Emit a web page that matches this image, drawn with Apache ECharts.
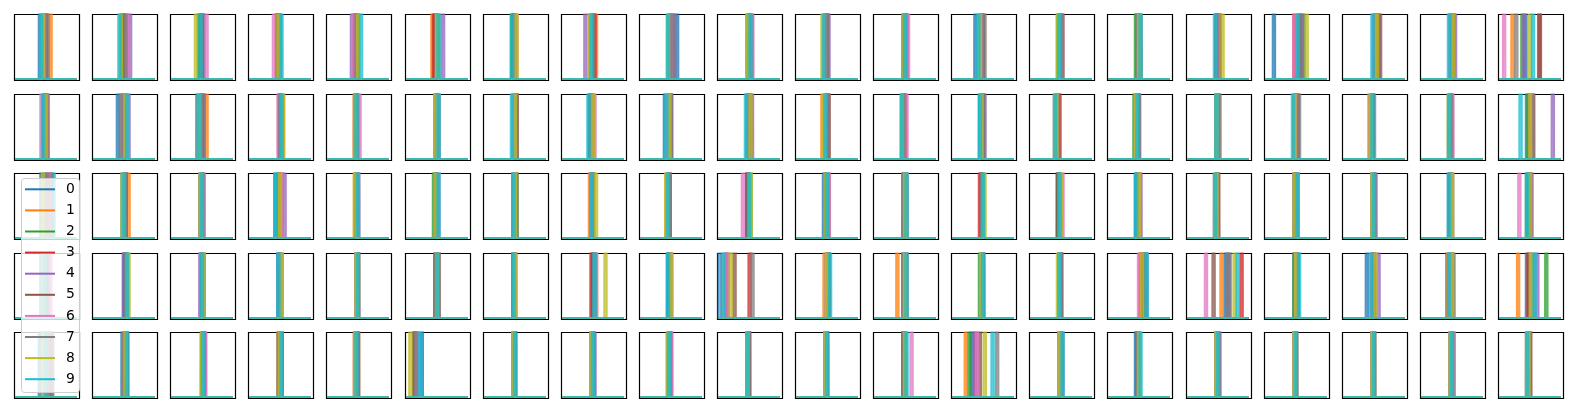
<!DOCTYPE html>
<html>
<head>
<meta charset="utf-8">
<script src="https://cdn.jsdelivr.net/npm/echarts@6/dist/echarts.min.js"></script>
<style>
html,body{margin:0;padding:0;background:#fff;}
#chart{width:1576px;height:412px;}
</style>
</head>
<body>
<div id="chart"></div>
<script>
// ---- data ----
const classNames = ['0','1','2','3','4','5','6','7','8','9'];
const palette = ['#1f77b4','#ff7f0e','#2ca02c','#d62728','#9467bd','#8c564b','#e377c2','#7f7f7f','#bcbd22','#17becf'];
const xStart = 0, xEnd = 40;      // sample range of every panel
const peakValue = 30;             // spike height (far above the visible range)
const peakHalfWidth = 0.75;       // spike half width in samples

// peak position of each class (0..9) in each panel, row by row
const peaksRow1 = [
  [16,23,19,20,19,20,19,21,18,17],[19,18,19,21,24,20,22,21,18,17],[19,18,18,20,21,20,23,20,16,19],[20,19,19,18,19,18,16,19,19,21],
  [18,19,20,19,16,18,17,19,20,22],[20,17,19,18,24,19,20,21,20,21],[19,20,18,20,19,19,21,20,21,18],[20,22,19,21,15,19,18,20,18,19],
  [24,19,20,21,22,19,20,21,18,18],[20,21,19,22,20,21,22,20,19,21],[19,18,20,19,21,20,19,20,17,18],[20,19,21,20,21,19,22,20,19,20],
  [15,19,18,19,20,20,19,21,18,17],[19,20,18,20,19,21,20,20,18,19],[19,20,18,20,19,21,20,19,20,21],[19,20,21,19,20,21,20,19,23,18],
  [5.5,23,25,19,24,22,19,22,27,21],[20,21,21,22,23,24,20,21,22,19],[19,20,21,20,22,21,19,20,21,18],[17,8.5,15,26.5,16,26,3,11,20,22]
];
const peaksRow2 = [
  [20,21,20,19,21,20,17,19,20,18],[16,20,19,21,23,20,19,18,21,22],[17,23,19,20,21,20,19,21,18,18],[20,22,21,20,21,20,19,20,22,21],
  [19,18,19,18,20,19,21,19,18,19],[20,19,21,20,19,20,21,20,19,21],[19,20,20,21,20,21,19,21,20,18],[18,19,20,19,20,18,21,19,20,17],
  [16,18,19,20,20,19,18,20,19,17],[19,20,19,21,22,20,19,20,21,18],[20,17,19,21,20,20,19,21,18,19],[18,19,19,20,19,20,21,19,18,18],
  [18,19,20,19,21,20,19,20,19,18],[17,16,18,19,17,18,17,18,17,16],[18,19,17,19,20,19,18,20,18,19],[19,20,19,20,19,20,20,21,19,19],
  [19,20,21,20,19,21,20,22,19,18],[19,17,18,19,20,19,18,19,18,19],[19,18,19,20,20,19,20,19,18,18],[18,21,19,22,35,20,21,22,20,13.8]
];
const peaksRow3 = [
  [17,21,19,23,20,24,22,21,18,25],[19,23,20,21,20,21,20,21,19,20],[19,20,21,20,19,20,21,20,19,20],[17,20,19,21,23,20,21,19,20,17],
  [19,18,19,20,20,19,20,19,18,20],[19,20,18,20,19,20,21,20,19,21],[19,20,21,20,19,20,20,21,20,19],[19,18,19,20,19,20,19,20,22,19],
  [18,17,18,19,18,19,18,19,17,18],[19,20,21,19,20,19,16,20,21,20],[18,19,20,21,20,19,21,20,19,20],[19,20,21,20,19,20,21,19,20,21],
  [19,20,19,18,20,19,20,19,21,20],[18,19,18,20,19,18,21,19,20,19],[18,19,20,19,21,20,20,19,20,18],[19,18,19,20,19,20,19,20,19,18],
  [19,20,21,20,19,20,21,20,19,21],[19,20,19,20,21,20,19,20,19,20],[18,19,20,19,20,19,20,19,20,18],[19,20,18,20,21,20,13,19,20,18]
];
const peaksRow4 = [
  [17,20,19,21,22,20,23,21,18,19],[20,21,22,21,20,21,22,21,23,22],[19,20,21,20,21,20,19,20,21,20],[19,20,21,20,19,20,21,20,21,19],
  [19,20,19,20,19,20,19,20,19,20],[19,20,20,21,20,19,20,21,20,20],[19,20,19,20,19,20,20,19,20,19],[21,22,20,19,21,20,22,21,28.2,21],
  [18,19,20,19,20,19,20,19,20,18],[1,4,6,20.4,5,10.5,5.5,22.3,8,3.2],[21,18.4,20,21,20,21,20,21,20,22],[20,15,19,20,19,21,20,19,20,21],
  [19,20,18,20,19,20,19,20,19,20],[19,20,19,20,19,20,19,20,18,19],[23,22,24,21,25,23,20,24,22,25],[25,22.3,27.6,35.5,27,17.1,12.1,26,30.9,32.9],
  [19,20,19,20,21,20,20,21,20,22],[15.3,19,20,19,23,20,19,20,21,18],[17,17.5,19,20,19,20,19,21,20,18],[18,12.2,30.7,19,24.8,20,21,22,20.5,23]
];
const peaksRow5 = [
  [16,21,20,22,19,24,21,23,18,20],[19,20,21,22,21,22,21,20,21,22],[20,21,20,21,22,21,22,21,20,21],[20,19,20,21,20,21,20,19,20,21],
  [19,20,19,18,19,20,19,20,18,19],[10,5,6,7,6,5,7,6,2.5,9],[19,20,19,20,19,20,19,20,19,20],[19,20,19,20,21,20,19,20,19,20],
  [18,19,20,19,20,19,20,19,18,19],[19,20,19,20,19,20,19,20,19,19],[19,20,19,20,19,20,19,20,19,20],[20,19,20,19,20,19,24.3,19,20,21],
  [12.5,8.7,11.3,15,14.6,18,16,29.3,21.2,26.3],[19,20,19,20,21,20,19,20,19,21],[18,19,20,19,20,19,20,19,20,21],[19,20,19,20,21,20,19,20,19,20],
  [19,20,19,20,19,20,19,20,19,20],[19,20,19,20,19,20,19,20,19,20],[19,20,21,20,19,20,21,20,19,20],[19,18,19,20,19,20,19,20,19,18]
];
const allRows = [peaksRow1, peaksRow2, peaksRow3, peaksRow4, peaksRow5];

// ---- layout ----
const nRows = 5, nCols = 20;
const panelW = 65, panelH = 66, left0 = 14, top0 = 14, stepX = 78.1, stepY = 79.5;

const grids = [], xAxes = [], yAxes = [], series = [];
for (let r = 0; r < nRows; r++) {
  for (let c = 0; c < nCols; c++) {
    const k = r * nCols + c;
    grids.push({
      left: Math.round(left0 + c * stepX) + 0.5, top: Math.round(top0 + r * stepY) + 0.5,
      width: panelW, height: panelH,
      show: true, borderColor: '#000', borderWidth: 1.2, backgroundColor: 'transparent'
    });
    xAxes.push({gridIndex: k, type: 'value', min: xStart - 0.7, max: xEnd + 2, show: false});
    yAxes.push({gridIndex: k, type: 'value', min: -0.023, max: 1, show: false});
    const peaks = allRows[r][c];
    for (let s = 0; s < classNames.length; s++) {
      const p = peaks[s];
      series.push({
        type: 'line', name: classNames[s], xAxisIndex: k, yAxisIndex: k,
        data: [[xStart, 0], [p - peakHalfWidth, 0], [p, peakValue], [p + peakHalfWidth, 0], [xEnd, 0]],
        showSymbol: false, symbol: 'none', silent: true, animation: false, clip: true, z: 2,
        itemStyle: {color: palette[s]},
        lineStyle: {color: palette[s], width: 2.2, opacity: 0.78}
      });
    }
  }
}

// ---- legend (drawn as graphic on its own layer, above the panels) ----
const legendX = 21, legendY = 178, legendW = 58, legendH = 214, legendRowGap = 21.1;
const legendZ = 100, legendLayer = 1;
const legendChildren = [{
  type: 'rect', zlevel: legendLayer, z: legendZ, z2: 0,
  shape: {x: 0.5, y: 0.5, width: legendW, height: legendH, r: 3},
  style: {fill: 'rgba(255,255,255,0.8)', stroke: '#cccccc', lineWidth: 1}
}];
classNames.forEach((n, i) => {
  const y = 11.3 + legendRowGap * i;
  legendChildren.push({
    type: 'line', zlevel: legendLayer, z: legendZ, z2: 1, shape: {x1: 4, y1: y, x2: 34, y2: y},
    style: {stroke: palette[i], lineWidth: 2}
  });
  legendChildren.push({
    type: 'text', zlevel: legendLayer, z: legendZ, z2: 1, x: 45, y: y,
    style: {text: n, fill: '#000', fontSize: 13.9, fontFamily: 'DejaVu Sans', verticalAlign: 'middle', align: 'left'}
  });
});

const chart = echarts.init(document.getElementById('chart'), null, {renderer: 'canvas'});
chart.setOption({
  animation: false,
  color: palette,
  textStyle: {fontFamily: 'DejaVu Sans'},
  grid: grids,
  xAxis: xAxes,
  yAxis: yAxes,
  graphic: [{
    type: 'group', left: legendX, top: legendY, zlevel: legendLayer, z: legendZ, silent: true,
    children: legendChildren
  }],
  series: series
});
</script>
</body>
</html>
